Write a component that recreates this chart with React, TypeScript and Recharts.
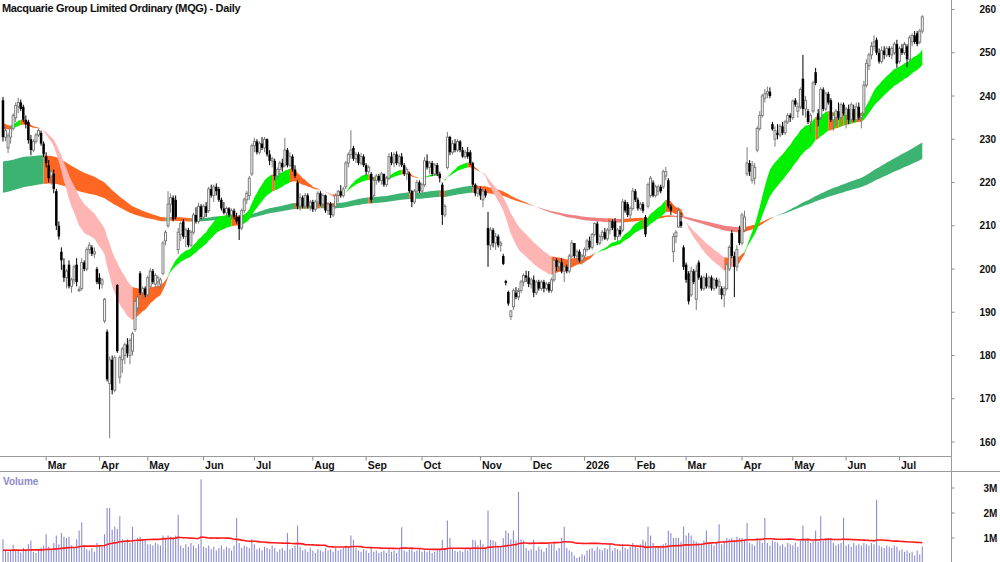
import React from 'react';
import { ComposedChart, Bar, Area, Line, XAxis, YAxis } from 'recharts';

// ---- daily candles, Feb 2025 .. Jul 2026 ----
const opens = [
  239,230.5,228,230.5,232.5,235,237.5,238.5,237.5,234.5,
  234,230,227.5,229.5,231,231.5,229,226,224,221.5,
  222,218,210,204,201,198,201,196,197.5,201,
  195,195.5,201.5,200,204.5,205,203.5,200,198,196.5,
  188,185.5,173.5,179,172,196.3,175,179,180,182.5,
  180,181,186,191,199,194.5,195.5,194,196,199.5,
  196.5,197,196.5,199,206.5,210,215,216.5,216,204.5,
  208,211,207.5,209,205.5,208.5,212.5,211,214.5,212,
  214.5,213.5,218.5,217,219,218.5,216,214,213,214,
  212.5,213.5,212,212,209.5,213.5,216,217,222,228.5,
  229.5,227,229,228,230,226.5,225,225,221.5,223,
  224.5,224,227.5,224,226,223,220,214.5,216.5,214.5,
  217,214.5,215.5,213.8,215.5,217.5,215,217,213.5,215,
  212.5,214.5,217,218,217,219,224.5,226.5,228,225.5,
  226.5,224.5,226,224,222.5,222,217,220.5,221.5,220.5,
  222,219.5,221,226,224.5,226.5,224.5,226,224,222,
  222,218,215.5,218,220,218,219.5,225,223.5,224.5,
  222,224,222,219.5,212.5,223.5,230.5,227,229,227.5,
  229.5,227.5,226,227,227,224.5,219.5,217.5,218.5,216,
  218,209.5,205.5,209,206,207.5,205.5,203,197.2,194.7,
  189,191.3,194.5,193.5,195,197,198.5,198,196.5,197.5,
  194.5,197,195.5,197,195.5,196.5,195,197.5,202,200.5,
  201.5,199.5,200.5,199.5,203,206,203,204,202,203,
  204.5,206.5,205,208,210.5,206,207.5,208.5,207,209,
  211,211,207.5,209,209,215.5,215,212.5,214,218,
  216,214,215,212,214.5,217,220,217,218,219,
  219,221.5,220.5,214.5,204,207.5,209.7,211,205,201,
  199,194,199.5,193,201.5,198,195.5,198,196,198,
  195.5,197.5,196,195.5,194,195.5,200,208.3,203,200.5,
  209,206,209,222,224.5,220.5,221,227.5,232.5,235.5,
  239.5,240.5,241,233.5,230,231.5,231,233,231.5,234,
  235.5,235,239,236.5,237.5,244,237,236.5,234,236.5,
  245.5,236,235,241.5,237,240.5,239,234.5,235,236.5,
  235,238,235.5,237,234.5,237,234.5,237.5,235,236,
  242.5,247,249.5,251.5,253,250,248,250.5,249.5,251,
  249.5,250,252,248,251,250,251.5,248.5,252.5,254,
  254.5,252.5,255
];
const highs = [
  239.8,233,231.5,233,236,238.5,239.6,239.2,238,235.5,
  234.5,231,230,231.5,232.5,232,229.5,227,225.2,223,
  223,218.5,211,205,202.5,200,202,198,201,202.5,
  196,202.5,202,205,206.2,205.5,205,200.5,199,198,
  193.3,186,179.8,180,180,196.5,180,182,183,184,
  184,185.5,193,194,199.5,196,196,198.5,200.2,200,
  199,198.5,198,206.5,209,218,217.5,217,217,209.5,
  211,211.5,209.5,209.5,209,213,214.3,215.3,215,215,
  215.5,219,219.5,219.5,219.8,219,216.5,215.5,214.5,214.3,
  214,214,213,212.5,214,216.5,218,221.5,229,230.3,
  230,229.5,230.5,230.5,230.2,227.5,226,225.5,223.5,225,
  225.5,230.3,228,227,226.5,224,220.5,217.5,217,217.6,
  217.5,216,216,216,218,218,217.5,217.2,215.5,215.5,
  215,217.5,218.3,219.4,219,225,227,232.1,228.5,227,
  227,226.8,226.5,224.5,224,222.4,221.3,222,222,222.5,
  222,221.5,226.8,227,227,227.2,226.5,226.8,224.5,223.5,
  222.5,218.3,218.5,220.6,220.5,220,225.9,226.5,225,225,
  224.5,224.5,222.5,220,215,231.7,230.8,229.8,230,230,
  229.8,228.2,227.5,228.2,227.5,224.8,219.8,219.4,219,218.5,
  218.5,213.2,209.7,209.5,208.3,208,206.5,203.5,197.5,195,
  190.5,195.5,195.8,195.6,197.5,199,199.6,199.5,198,198.5,
  197.5,197.5,197.5,197.5,197,197,198,202.8,202.5,202,
  202.5,200.8,201,203.5,206.7,206,204.5,204.5,203.5,205,
  207,207.5,208.3,210.8,211,208,209,209.5,209.5,211.3,
  211.5,211.8,209.5,210,216.2,216,215.5,214.5,218.8,218.5,
  216.5,215.5,215.5,212.5,220,221.5,220.5,219.5,219.5,219.5,
  223,223.6,221,215,208.3,209,214.2,213,205.5,201.5,
  199.5,200.5,200,201,202,198.5,198.5,199,198.5,198.5,
  198,198,197.8,196,196,201.5,205.5,209,204,205.5,
  210,213,213.5,228.2,225.2,225,224.5,233,236.5,240.5,
  241.6,242.2,242,234,233,233.5,233.5,234,234.5,236,
  236,239.2,239.5,238.5,242,249.5,240,237,236,243.5,
  246.5,237,242,242,241,241,239.5,236,237,238.5,
  238.5,238.5,237.5,238,238.5,238,238.5,238.5,236,243.5,
  248.5,250,252.5,254,253.5,251,251.5,251.5,251.5,251.5,
  251.5,252.5,253,251.5,252,252.5,252,254,254.5,255,
  255,255.5,258.7
];
const lows = [
  229.5,229.5,226.8,229,232,234,236,236.5,234,232.5,
  229,226.3,227,229,230.5,228.5,225.9,223.5,220,219.5,
  217.5,209,206.8,199.8,197,195.5,195.5,194.5,196.5,196,
  194.7,195,199.5,199.5,203.5,203,202.5,196.5,195.3,195.5,
  187.5,174,160.9,171,171.5,180.6,173.5,176,178,179.5,
  178,180,185.5,190,194,193,193.5,193.5,195.5,196.5,
  195.5,195.5,195.5,198.5,205.5,209.5,213,211,211.5,203.5,
  206.5,207,205,205,205,208,210.5,210.5,211.5,211.5,
  212,213,216.5,215.5,217,215.5,213.5,212.6,211.8,212,
  211.5,211.5,210.5,206.7,209,213,215,216,221.5,227,
  226.5,226.5,227.5,227,226,224,223.5,220.5,221,222,
  222.5,223.5,223.5,223.5,222.5,221,213.8,213.5,214,214,
  214,213.5,213.2,213.2,214.5,214.5,214.5,213,212.5,211.8,
  212,214,215.5,216.5,216.5,218.5,223.5,225.5,225,224.5,
  224,224,223.6,221.7,222,215.3,216.5,219.5,220,219.5,
  219,219,220.5,224,223.5,224,223.6,223.6,221.5,220.6,
  217.6,214.3,215,217.5,217.6,217.5,219,223,222,221.5,
  221.5,221.5,220,210.2,212,223,226.3,226.5,227,227,
  227,225.7,225.5,225.5,224,219,216.8,216.6,216,214.3,
  216.5,200.5,204.4,205,204.4,205,204,200.9,196.2,191.5,
  188.2,190.5,193,192.8,194.5,196,197,195.8,195.5,193.5,
  194,195,195,194.6,195,194.5,194.5,197,199.5,199.5,
  199,197,199,199,202.5,202.5,201.5,201.5,201,202.5,
  204,204.5,204.5,207.5,205.5,205.5,206.5,206.7,206.5,208,
  209,206.7,206.5,207.5,208.5,213,212,211.5,213.5,215.5,
  213.5,213.5,213,207.4,214,216.5,216.6,216.5,217,217.5,
  218.5,220.5,214,212.5,201.6,206,209.5,209.5,199.8,196.8,
  191.8,193.5,196.5,190.5,197.5,195,195,195.5,195.5,195,
  195,195.5,194,193,191.2,195,199.5,202.5,193.5,199.5,
  205.5,205.5,208.5,221.5,221.5,219.8,219.5,227,232,235,
  238.5,239.5,239.5,232,228.3,230,230.5,231,231,233.5,
  234,234.5,237.5,235,237,235.5,235,233.5,231.4,236,
  242.5,233,234.5,236.5,236.5,238,234,232,233,234.5,
  234.5,235.5,232.5,233.5,234,234,234,234.5,232.5,235.5,
  242,246,248.5,250.5,249.5,247.5,247.5,248.5,249,249,
  248.5,249.5,246.5,247.5,249.5,249.5,246.7,248,251.5,252,
  251.5,252,254.5
];
const closes = [
  230.5,232,230.8,232.5,235.5,237.8,238.5,237,234.5,233.5,
  229.8,227.5,229.5,231,232,229,226.5,224.5,221,222.5,
  218.5,210,207.5,202,198,199.5,196,197.5,200.5,197,
  195.3,201.5,200,204.5,205.5,203.5,204,197,196.5,197.5,
  193,174.5,179,172,179.5,181,179.5,181.5,182.5,180.5,
  183.5,185,192.5,193.5,194.5,195.5,194,198,199.5,197,
  198.5,198,197.5,206,208.5,215,216.5,211.5,212,208.5,
  210.5,207.5,209,205.5,208.5,212.5,211,214.5,212,214.5,
  213,218.5,217,219,218,216,214,213,214,212.5,
  213.5,212,211,209.3,213.5,216,217.5,221,228.5,229.5,
  227,229,228,230,226.5,225,225.5,221.5,223,224.5,
  223.5,227.5,224,226,223,221.5,214.5,216.5,214.5,217,
  214.5,215.5,213.8,215.5,217.5,215,217,213.5,215,212.5,
  214.5,217,218,217,218.5,224.5,226.5,227.5,225.5,226.5,
  224.5,226,224,222.5,223.5,216,220.5,221.5,220.5,222,
  219.5,221,226,224.5,226.5,224.5,226,224,222,223,
  218,215.5,218,220,218,219.5,225,223.5,224.5,222,
  224,222,221,212.5,214.5,230.5,227,229,227.5,229.5,
  227.5,226,227,226,224.5,219.5,217.5,218.5,217,218,
  217,205.5,209,206,207.5,205.5,206,201.2,196.8,192,
  190.3,195,193.5,195,197,198.5,198,196.5,197.5,194.5,
  197,195.5,197,195.5,196.5,195,197.5,202,200.5,201.5,
  199.5,200.5,199.5,203,206,203,204,202,203,204.5,
  206.5,205,208,210.5,206,207.5,208.5,207,209,211,
  209.5,207.5,209,208,215.5,213.5,212.5,214,218,216,
  214,215,213.5,208,219.5,221,217,219,219,218,
  222.5,222.5,214.5,213.5,207.5,208.5,213.5,210,200.5,197.5,
  192.5,199.5,197,199.5,198,195.5,198,196,198,195.5,
  197.5,196,197,194,195.5,201,205,203,200.5,204.5,
  206,212.5,212,224.5,222.5,224,223.5,232.5,235.5,240,
  240.5,241,240,232.3,232,231,233,231.5,234,235.5,
  235,238.8,238,237.5,241.5,237,239,234,235.5,243,
  243,234.5,241.5,237,240.5,238.5,234.5,235.5,236.5,235,
  238,236,237,234.5,238,234.5,237.5,235,235.5,242.5,
  247.5,249.5,251.5,252.5,250,248,250.5,249.5,251,249.5,
  251,252,247.5,251,250,252,248.5,253.5,254,252.5,
  252,255,258.3
];
// daily volume, millions of shares
const volumesM = [
  0.95,0.55,0.45,0.5,0.73,0.48,0.52,0.42,0.6,0.5,
  0.75,0.9,0.45,0.4,0.5,0.62,0.7,1.15,0.65,0.55,
  0.8,1.1,0.75,1.2,1.05,1.0,1.05,0.7,0.6,0.95,
  1.3,1.63,0.7,0.55,0.5,0.6,0.45,0.8,0.7,0.65,
  1.15,2.2,2.2,1.33,1.45,1.37,1.87,0.95,0.9,0.95,
  0.8,1.45,0.85,1.0,1.05,0.9,0.95,0.75,0.75,0.7,
  0.8,0.75,0.7,1.1,1.0,1.1,1.05,1.0,1.1,1.93,
  0.7,0.6,0.75,0.65,0.8,0.7,0.6,0.75,3.35,0.65,
  0.6,0.7,0.55,0.65,0.5,0.6,0.7,0.55,0.65,0.6,
  0.5,0.7,1.8,0.8,0.6,0.7,0.65,0.6,0.95,0.75,
  0.55,0.6,0.5,0.65,0.6,0.55,0.7,0.6,0.45,0.55,
  0.6,0.5,1.2,0.55,0.6,0.7,1.5,0.65,0.5,0.55,
  0.45,0.6,0.5,0.4,0.55,0.5,0.45,0.6,0.5,0.55,
  0.45,0.6,0.5,0.55,0.6,0.7,0.65,1.1,0.93,0.6,
  0.5,0.45,0.55,0.5,0.4,0.6,0.45,0.5,0.4,0.45,
  0.5,0.4,0.55,0.45,0.5,0.4,0.55,1.43,0.5,0.45,
  0.55,0.6,0.45,0.5,0.55,0.45,0.5,0.45,0.5,0.4,
  0.45,0.5,0.55,0.93,0.6,1.7,1.0,0.6,0.5,0.45,
  0.5,0.45,0.55,0.5,0.6,0.93,0.9,0.7,0.93,0.75,
  0.6,2.1,0.93,0.9,0.85,0.7,0.65,1.0,1.3,1.2,
  0.95,1.3,0.9,2.85,0.95,0.9,0.6,0.5,0.55,0.93,
  0.5,0.65,0.55,0.45,0.6,0.8,0.75,0.8,0.5,0.6,
  1.0,1.45,0.6,0.5,0.45,0.3,0.2,0.25,0.35,0.3,
  0.5,0.55,0.6,0.5,0.65,0.55,0.5,0.6,0.55,0.8,
  0.5,0.6,0.55,0.5,0.75,0.6,0.55,0.65,0.8,0.7,
  0.6,0.75,0.93,0.85,1.45,1.1,0.8,0.6,0.65,0.7,
  0.75,0.8,1.3,1.2,1.0,1.0,1.0,0.85,1.46,1.1,
  1.2,1.1,0.9,0.85,0.8,0.75,0.9,1.3,0.8,0.75,
  0.7,0.8,1.55,0.75,0.9,1.0,0.95,1.0,0.9,1.05,
  1.0,1.0,0.95,1.6,0.8,0.75,0.7,1.0,0.9,0.8,
  1.8,0.8,0.7,0.9,0.85,0.8,0.7,0.75,0.65,0.8,
  0.75,0.7,0.8,0.65,0.9,1.5,0.9,1.0,0.8,0.9,
  1.3,0.85,1.87,0.9,1.0,1.0,1.0,0.8,0.7,0.75,
  0.8,1.8,0.7,0.75,0.65,0.8,0.7,0.75,0.7,0.8,
  0.75,0.7,0.8,0.75,2.53,0.7,0.65,0.6,0.7,0.65,
  0.6,0.7,0.65,0.5,0.55,0.45,0.5,0.4,0.45,0.3,
  0.5,0.35,0.66
];

const monthStartIdx = [17, 38, 57, 79, 99, 122, 143, 165, 188, 208, 229, 249, 269, 291, 311, 332, 353];
const monthLabels = ['Mar', 'Apr', 'May', 'Jun', 'Jul', 'Aug', 'Sep', 'Oct', 'Nov', 'Dec', '2026', 'Feb', 'Mar', 'Apr', 'May', 'Jun', 'Jul'];
const priceTicks = [160, 170, 180, 190, 200, 210, 220, 230, 240, 250, 260];
const volumeTicks = [1, 2, 3];

// moving-average ribbons: periods and the starting values read at the left edge
const shortPeriods = [20, 35];
const shortSeeds = [234, 232.5];
const longPeriods = [150, 210];
const longSeeds = [224.8, 217.5];
const volMaPeriod = 50;
const volMaSeed = 0.5;

const TOTAL_SLOTS = 374;
const N = closes.length;
const FONT = '"Liberation Sans", Arial, Helvetica, sans-serif';

function ema(vals: number[], n: number, seed: number) {
  const a = 2 / (n + 1);
  let e = seed;
  return vals.map((v) => (e = e + a * (v - e)));
}

const sF = ema(closes, shortPeriods[0], shortSeeds[0]);
const sS = ema(closes, shortPeriods[1], shortSeeds[1]);
const lF = ema(closes, longPeriods[0], longSeeds[0]);
const lS = ema(closes, longPeriods[1], longSeeds[1]);

function bandStates(f: number[], s: number[], f0: number, s0: number) {
  return f.map((v, i) => {
    const pf = i ? f[i - 1] : f0;
    const ps = i ? s[i - 1] : s0;
    const fu = v > pf;
    const su = s[i] > ps;
    if (v > s[i] && fu && su) return 'up';
    if (v < s[i] && !fu && !su) return 'down';
    return 'mixed';
  });
}

function runsOf(states: string[]) {
  const runs: { from: number; to: number; state: string }[] = [];
  let st = 0;
  for (let i = 1; i <= states.length; i++) {
    if (i === states.length || states[i] !== states[st]) {
      runs.push({ from: Math.max(0, st - 1), to: i - 1, state: states[st] });
      st = i;
    }
  }
  return runs;
}

const shortRuns = runsOf(bandStates(sF, sS, shortSeeds[0], shortSeeds[1]));
const longRuns = runsOf(bandStates(lF, lS, longSeeds[0], longSeeds[1]));

const SHORT_COLORS: Record<string, string> = { up: '#00f000', mixed: '#ff6622', down: '#ffb4b4' };
const LONG_COLORS: Record<string, string> = { up: '#3cb371', mixed: '#ff6622', down: '#f08080' };

const volMA = volumesM.map((_, i) => {
  let s = 0;
  for (let k = i - volMaPeriod + 1; k <= i; k++) s += k >= 0 ? volumesM[k] : volMaSeed;
  return s / volMaPeriod;
});

const rows = Array.from({ length: TOTAL_SLOTS }, (_, i) =>
  i < N
    ? { i, o: opens[i], h: highs[i], l: lows[i], c: closes[i], v: volumesM[i], vma: volMA[i] }
    : { i }
);

const bandKey = (f: number[], s: number[], from: number, to: number) => (d: any) =>
  d.i >= from && d.i <= to && d.i < N ? [Math.min(f[d.i], s[d.i]), Math.max(f[d.i], s[d.i])] : null;

const Candle = (props: any) => {
  const { x, y, width, height, payload } = props;
  if (!payload || payload.h == null || x == null) return null;
  const top = Math.min(y, y + height);
  const hh = Math.abs(height);
  const range = payload.h - payload.l;
  const py = (p: number) => (range > 0 ? top + ((payload.h - p) / range) * hh : top);
  const cx = x + width / 2;
  const up = payload.c >= payload.o;
  const yo = py(payload.o);
  const yc = py(payload.c);
  const bt = Math.min(yo, yc);
  const bh = Math.max(0.8, Math.abs(yo - yc));
  if (up) {
    return (
      <g>
        <line x1={cx} y1={top} x2={cx} y2={top + hh} stroke="#7c7c7c" strokeWidth={1} />
        <rect x={cx - 1} y={bt} width={2} height={bh} fill="#ffffff" stroke="#7c7c7c" strokeWidth={1} />
      </g>
    );
  }
  return (
    <g>
      <line x1={cx} y1={top} x2={cx} y2={top + hh} stroke="#000" strokeWidth={1} />
      <rect x={cx - 1.25} y={bt} width={2.5} height={bh} fill="#000" />
    </g>
  );
};

const VolBar = (props: any) => {
  const { x, y, width, height, payload } = props;
  if (!payload || payload.v == null || x == null) return null;
  const top = Math.min(y, y + height);
  return <rect x={x + width / 2 - 0.55} y={top} width={1.1} height={Math.abs(height)} fill="#8c8cd4" />;
};

const MonthTick = (props: any) => {
  const { x, payload } = props;
  const k = monthStartIdx.indexOf(payload.value);
  if (k < 0) return null;
  return (
    <g>
      <line x1={x} y1={457} x2={x} y2={460.5} stroke="#8a8a8a" strokeWidth={1} />
      <text x={x + 1.5} y={469} fontSize={10.5} fontWeight="bold" fill="#111" fontFamily={FONT}>
        {monthLabels[k]}
      </text>
    </g>
  );
};

export default function App() {
  return (
    <div style={{ position: 'absolute', left: 0, top: 0, width: 1000, height: 562, background: '#fff', overflow: 'hidden' }}>
      <div style={{ position: 'absolute', left: 0, top: 0 }}>
        <ComposedChart width={1000} height={472} data={rows} margin={{ top: 0, right: 0, bottom: 0, left: 1.73 }}>
          <XAxis
            dataKey="i"
            type="category"
            ticks={monthStartIdx}
            interval={0}
            tick={<MonthTick />}
            tickLine={false}
            axisLine={false}
            height={15}
          />
          <YAxis
            orientation="right"
            domain={[156.53, 262.2]}
            ticks={priceTicks}
            allowDataOverflow
            width={48.5}
            tickSize={3}
            tickMargin={25}
            axisLine={false}
            tickLine={{ stroke: '#8a8a8a' }}
            tick={{ fontSize: 10, fontWeight: 'bold', fill: '#111', fontFamily: FONT }}
          />
          {longRuns.map((r, k) => (
            <Area
              key={'l' + k}
              type="linear"
              dataKey={bandKey(lF, lS, r.from, r.to)}
              stroke="none"
              fill={LONG_COLORS[r.state]}
              fillOpacity={1}
              dot={false}
              activeDot={false}
              isAnimationActive={false}
            />
          ))}
          {shortRuns.map((r, k) => (
            <Area
              key={'s' + k}
              type="linear"
              dataKey={bandKey(sF, sS, r.from, r.to)}
              stroke="none"
              fill={SHORT_COLORS[r.state]}
              fillOpacity={1}
              dot={false}
              activeDot={false}
              isAnimationActive={false}
            />
          ))}
          <Bar
            dataKey={(d: any) => (d.h == null ? null : [d.l, d.h])}
            shape={(p: any) => <Candle {...p} />}
            isAnimationActive={false}
          />
        </ComposedChart>
      </div>
      <div style={{ position: 'absolute', left: 0, top: 472 }}>
        <ComposedChart width={1000} height={91} data={rows} margin={{ top: 0, right: 0, bottom: 0, left: 1.73 }}>
          <XAxis dataKey="i" type="category" hide />
          <YAxis
            orientation="right"
            domain={[0, 3.64]}
            ticks={volumeTicks}
            allowDataOverflow
            width={48.5}
            tickSize={3}
            tickMargin={29}
            axisLine={false}
            tickLine={{ stroke: '#8a8a8a' }}
            tickFormatter={(v: number) => v + 'M'}
            tick={{ fontSize: 10, fontWeight: 'bold', fill: '#111', fontFamily: FONT }}
          />
          <Bar dataKey="v" shape={(p: any) => <VolBar {...p} />} isAnimationActive={false} />
          <Line
            type="linear"
            dataKey="vma"
            stroke="#ff1a1a"
            strokeWidth={1.6}
            dot={false}
            activeDot={false}
            isAnimationActive={false}
          />
        </ComposedChart>
      </div>
      <svg width={1000} height={562} style={{ position: 'absolute', left: 0, top: 0, pointerEvents: 'none' }}>
        <line x1={951.5} y1={0} x2={951.5} y2={562} stroke="#9a9a9a" strokeWidth={1} />
        <line x1={0} y1={456.5} x2={951.5} y2={456.5} stroke="#9a9a9a" strokeWidth={1} />
        <line x1={0} y1={471.5} x2={1000} y2={471.5} stroke="#9a9a9a" strokeWidth={1} />
        <text x={2} y={12} fontSize={11} fontWeight="bold" fill="#111" fontFamily={FONT} letterSpacing={-0.35}>
          Macquarie Group Limited Ordinary (MQG) - Daily
        </text>
        <text x={3} y={485} fontSize={10} fontWeight="bold" fill="#8a8ac8" fontFamily={FONT}>
          Volume
        </text>
      </svg>
    </div>
  );
}
